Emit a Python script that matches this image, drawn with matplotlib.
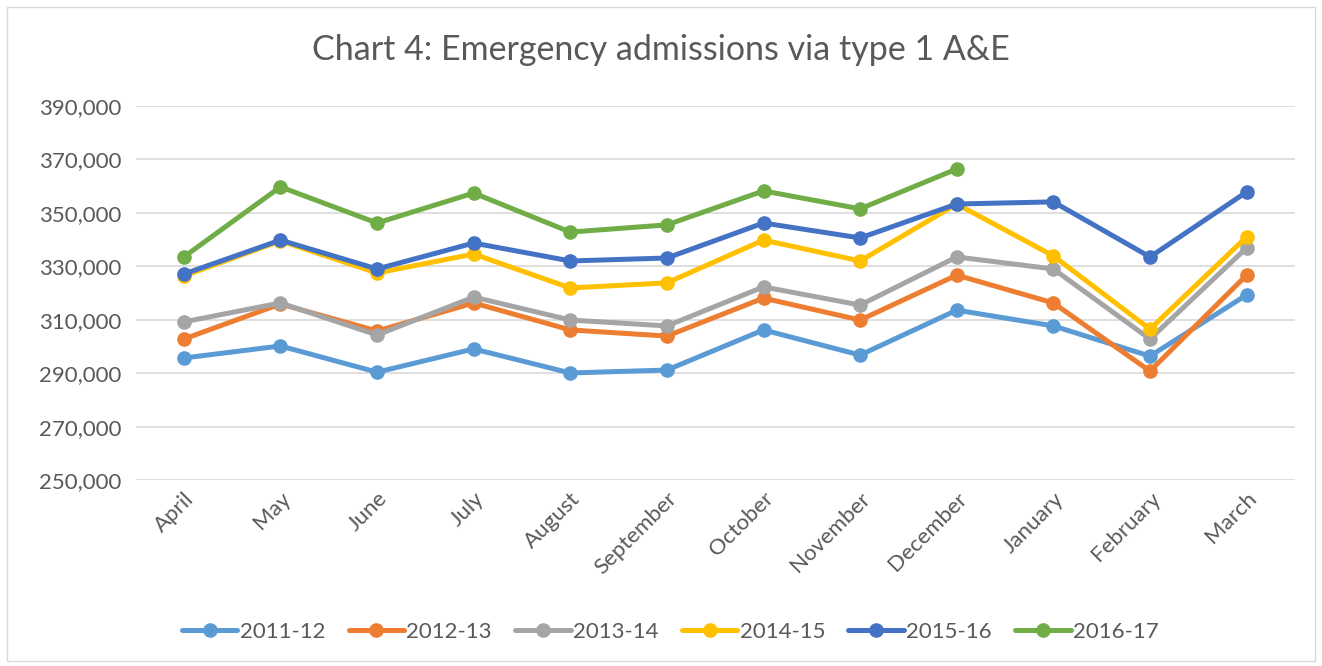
import matplotlib
matplotlib.use("Agg")
import matplotlib.pyplot as plt
from matplotlib.patches import Rectangle
from matplotlib.ticker import FuncFormatter

plt.rcParams['font.family'] = ['Lato', 'DejaVu Sans']

months = ["April", "May", "June", "July", "August", "September", "October",
          "November", "December", "January", "February", "March"]

y2011 = [295700, 300200, 290400, 299100, 290100, 291200, 306200, 296800, 313600, 307700, 296400, 319300]
y2012 = [302800, 315900, 305800, 316300, 306200, 303900, 318100, 309900, 326700, 316300, 290800, 326700]
y2013 = [309200, 316300, 304300, 318500, 309900, 307700, 322300, 315500, 333500, 329000, 302800, 336900]
y2014 = [326400, 339500, 327500, 334600, 321900, 323800, 339800, 332000, 353300, 333900, 306500, 341000]
y2015 = [327100, 339800, 329000, 338700, 332000, 333100, 346200, 340600, 353300, 354100, 333500, 357800]
y2016 = [333500, 359700, 346200, 357400, 342800, 345500, 358200, 351500, 366400]

series = [("2011-12", y2011, "#5B9BD5"),
          ("2012-13", y2012, "#ED7D31"),
          ("2013-14", y2013, "#A5A5A5"),
          ("2014-15", y2014, "#FFC000"),
          ("2015-16", y2015, "#4472C4"),
          ("2016-17", y2016, "#70AD47")]

text_col = "#595959"

fig = plt.figure(figsize=(13.22, 6.66), dpi=100)
fig.patches.append(Rectangle((0.005, 0.008), 0.99, 0.982, transform=fig.transFigure,
                             fill=False, edgecolor="#d9d9d9", linewidth=1))

ax = fig.add_axes([0.1025, 0.279, 0.877, 0.562])

for name, vals, col in series:
    ax.plot(range(len(vals)), vals, color=col, linewidth=3.6, marker="o",
            markersize=9.5, label=name, solid_capstyle="round")

ax.set_xlim(-0.5, 11.5)
ax.set_ylim(250000, 390000)
ax.set_yticks(range(250000, 390001, 20000))
ax.yaxis.set_major_formatter(FuncFormatter(lambda v, p: f"{int(v):,}"))
ax.set_xticks(range(len(months)))
ax.set_xticklabels(months, rotation=45, ha="right", rotation_mode="anchor")
ax.grid(axis="y", color="#d9d9d9", linewidth=1.2)
ax.set_axisbelow(True)
for s in ax.spines.values():
    s.set_visible(False)
ax.tick_params(length=0, labelsize=16, colors=text_col, pad=10)
ax.tick_params(axis="x", pad=6)

fig.text(0.5, 0.925, "Chart 4: Emergency admissions via type 1 A&E",
         ha="center", va="center", fontsize=24.5, color=text_col)

fig.legend(loc="center", bbox_to_anchor=(0.507, 0.051), ncol=6, frameon=False,
           fontsize=16, labelcolor=text_col, handlelength=2.5, handletextpad=0.1,
           columnspacing=1.05)

fig.savefig("out.png", dpi=100)
